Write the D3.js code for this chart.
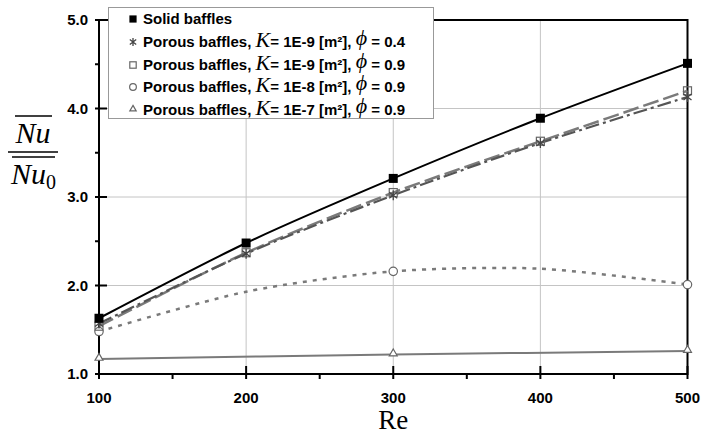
<!DOCTYPE html>
<html>
<head>
<meta charset="utf-8">
<script src="https://cdn.jsdelivr.net/npm/d3@7"></script>
<style>
  body { margin: 0; background: #fff; }
  svg { display: block; }
</style>
</head>
<body>
<svg id="chart" width="703" height="437"></svg>
<script>
// Re values
var reAll = [100, 200, 300, 400, 500];
var reSparse = [100, 300, 500];

// Nu / Nu0
var solidBaffles = [1.63, 2.48, 3.21, 3.89, 4.51];
var porousK9phi04 = [1.57, 2.36, 3.02, 3.61, 4.13];
var porousK9phi09 = [1.54, 2.37, 3.05, 3.63, 4.20];
// curve read at every Re, markers only shown at reSparse
var porousK8phi09 = [1.48, 1.93, 2.16, 2.19, 2.01];
var porousK7phi09 = [1.17, 1.22, 1.26];

var xTicks = [100, 200, 300, 400, 500];
var yTicks = [1, 2, 3, 4, 5];

var series = [
    { x: reAll, y: solidBaffles, mk: reAll, color: "#000", width: 2, dash: null, sym: "fsquare", k: null },
    { x: reAll, y: porousK9phi04, mk: reAll, color: "#555", width: 2.2, dash: "14,4,3,4", sym: "asterisk", k: "1E-9", phi: "0.4" },
    { x: reAll, y: porousK9phi09, mk: reAll, color: "#7a7a7a", width: 2.5, dash: "16,5", sym: "square", k: "1E-9", phi: "0.9" },
    { x: reAll, y: porousK8phi09, mk: reSparse, color: "#7a7a7a", width: 2.5, dash: "4,6", sym: "circle", k: "1E-8", phi: "0.9" },
    { x: reSparse, y: porousK7phi09, mk: reSparse, color: "#7a7a7a", width: 2, dash: null, sym: "triangle", k: "1E-7", phi: "0.9" }
];

// x with a vertical bar
var starX = {
    draw: function(ctx, size) {
        var r = Math.sqrt(size) / 2;
        var a = r * 0.8, b = r * 0.6;
        ctx.moveTo(0, -r); ctx.lineTo(0, r);
        ctx.moveTo(-a, -b); ctx.lineTo(a, b);
        ctx.moveTo(-a, b); ctx.lineTo(a, -b);
    }
};

draw();

function draw() {
    var svg = d3.select("#chart");
    var pLeft = 99, pRight = 687.5, pTop = 20, pBottom = 374;

    var x = d3.scaleLinear().domain([100, 500]).range([pLeft, pRight]);
    var y = d3.scaleLinear().domain([1, 5]).range([pBottom, pTop]);

    //grid
    svg.append("g").selectAll("line")
        .data(xTicks.slice(1, -1))
        .enter().append("line")
        .attr("x1", function(d) { return x(d); })
        .attr("x2", function(d) { return x(d); })
        .attr("y1", pTop).attr("y2", pBottom)
        .style("stroke", "#c4c4c4").style("stroke-width", 1);
    svg.append("g").selectAll("line")
        .data(yTicks.slice(1, -1))
        .enter().append("line")
        .attr("y1", function(d) { return y(d); })
        .attr("y2", function(d) { return y(d); })
        .attr("x1", pLeft).attr("x2", pRight)
        .style("stroke", "#c4c4c4").style("stroke-width", 1);

    // frame
    svg.append("rect")
        .attr("x", pLeft).attr("y", pTop)
        .attr("width", pRight - pLeft).attr("height", pBottom - pTop)
        .style("fill", "none").style("stroke", "#000").style("stroke-width", 2);

    // ticks (major cross the axis, minor outside)
    var minorY = [1.5, 2.5, 3.5, 4.5];
    var minorX = [150, 250, 350, 450];
    svg.append("g").selectAll("line")
        .data(yTicks).enter().append("line")
        .attr("x1", pLeft - 4).attr("x2", pLeft + 8)
        .attr("y1", function(d) { return y(d); }).attr("y2", function(d) { return y(d); })
        .style("stroke", "#000").style("stroke-width", 2);
    svg.append("g").selectAll("line")
        .data(minorY).enter().append("line")
        .attr("x1", pLeft - 4).attr("x2", pLeft)
        .attr("y1", function(d) { return y(d); }).attr("y2", function(d) { return y(d); })
        .style("stroke", "#000").style("stroke-width", 2);
    svg.append("g").selectAll("line")
        .data(xTicks).enter().append("line")
        .attr("y1", pBottom - 8).attr("y2", pBottom + 5)
        .attr("x1", function(d) { return x(d); }).attr("x2", function(d) { return x(d); })
        .style("stroke", "#000").style("stroke-width", 2);
    svg.append("g").selectAll("line")
        .data(minorX).enter().append("line")
        .attr("y1", pBottom).attr("y2", pBottom + 5)
        .attr("x1", function(d) { return x(d); }).attr("x2", function(d) { return x(d); })
        .style("stroke", "#000").style("stroke-width", 2);

    // tick labels
    svg.append("g").selectAll("text")
        .data(yTicks).enter().append("text")
        .attr("x", 88).attr("y", function(d) { return y(d) + 5; })
        .attr("text-anchor", "end")
        .style("font", "bold 15px 'Liberation Sans', Arial, sans-serif")
        .text(function(d) { return d3.format(".1f")(d); });
    svg.append("g").selectAll("text")
        .data(xTicks).enter().append("text")
        .attr("x", function(d) { return x(d); }).attr("y", 403)
        .attr("text-anchor", "middle")
        .style("font", "bold 15px 'Liberation Sans', Arial, sans-serif")
        .text(function(d) { return d; });

    // axis titles
    svg.append("text")
        .attr("x", x(300)).attr("y", 429)
        .attr("text-anchor", "middle")
        .style("font", "27px 'Liberation Serif', 'Times New Roman', serif")
        .text("Re");

    var ylab = svg.append("g");
    ylab.append("text").attr("x", 33).attr("y", 143).attr("text-anchor", "middle")
        .style("font", "italic 30px 'Liberation Serif', serif").text("Nu");
    ylab.append("line").attr("x1", 15).attr("x2", 52).attr("y1", 116).attr("y2", 116)
        .style("stroke", "#000").style("stroke-width", 1.5);
    ylab.append("line").attr("x1", 8).attr("x2", 58).attr("y1", 152).attr("y2", 152)
        .style("stroke", "#000").style("stroke-width", 1.5);
    ylab.append("line").attr("x1", 12).attr("x2", 55).attr("y1", 157).attr("y2", 157)
        .style("stroke", "#000").style("stroke-width", 1.5);
    var den = ylab.append("text").attr("x", 11).attr("y", 184)
        .style("font", "italic 30px 'Liberation Serif', serif");
    den.append("tspan").text("Nu");
    den.append("tspan").attr("dy", 5).style("font-style", "normal").style("font-size", "20px").text("0");

    // lines
    var line = d3.line()
        .x(function(d) { return x(d[0]); })
        .y(function(d) { return y(d[1]); })
        .curve(d3.curveCardinal.tension(0.2));

    series.slice().reverse().forEach(function(s) {
        var pts = s.x.map(function(v, i) { return [v, s.y[i]]; });
        svg.append("path")
            .datum(pts)
            .attr("d", line)
            .style("fill", "none")
            .style("stroke", s.color)
            .style("stroke-width", s.width)
            .style("stroke-dasharray", s.dash);
    });

    var marks = svg.append("g");
    series.slice().reverse().forEach(function(s) {
        s.x.forEach(function(v, i) {
            if (s.mk.indexOf(v) < 0) return;
            drawMarker(marks, s.sym, x(v), y(s.y[i]), 1);
        });
    });

    // legend
    var lg = svg.append("g");
    lg.append("rect").attr("x", 108.5).attr("y", 7.5).attr("width", 325).attr("height", 111)
        .style("fill", "#fff").style("stroke", "#999").style("stroke-width", 1);
    var rowY = [19, 42, 65, 87, 110];
    var sans = "'Liberation Sans', Arial, sans-serif";
    var serif = "'Liberation Serif', 'Times New Roman', serif";
    series.forEach(function(s, i) {
        drawMarker(lg, s.sym, 133, rowY[i], 0.8);
        var t = lg.append("text").attr("x", 143).attr("y", rowY[i] + 5)
            .style("font-family", sans).style("font-weight", "bold").style("font-size", "15px");
        if (s.k === null) {
            t.text("Solid baffles");
            return;
        }
        t.append("tspan").text("Porous baffles, ");
        t.append("tspan").style("font-family", serif).style("font-style", "italic")
            .style("font-weight", "normal").style("font-size", "22px").text("K");
        t.append("tspan").text("= " + s.k + " [m\u00b2], ");
        t.append("tspan").style("font-family", serif).style("font-style", "italic").style("font-weight", "normal")
            .style("font-size", "22px").attr("dy", -2).text("\u03d5");
        t.append("tspan").attr("dy", 2).text(" = " + s.phi);
    });
}

function drawMarker(g, sym, cx, cy, scale) {
    var sz = scale || 1;
    if (sym === "fsquare") {
        g.append("rect").attr("x", cx - 4.5 * sz).attr("y", cy - 4.5 * sz)
            .attr("width", 9 * sz).attr("height", 9 * sz).style("fill", "#000");
    } else if (sym === "square") {
        g.append("rect").attr("x", cx - 4 * sz).attr("y", cy - 4 * sz)
            .attr("width", 8 * sz).attr("height", 8 * sz)
            .style("fill", "none").style("stroke", "#666").style("stroke-width", 1.2);
    } else if (sym === "circle") {
        g.append("circle").attr("cx", cx).attr("cy", cy).attr("r", 4.2 * sz)
            .style("fill", "#fff").style("stroke", "#666").style("stroke-width", 1.2);
    } else if (sym === "triangle") {
        g.append("path")
            .attr("d", d3.symbol().type(d3.symbolTriangle2).size(45 * sz * sz)())
            .attr("transform", "translate(" + cx + "," + (cy - 1) + ")")
            .style("fill", "#fff").style("stroke", "#666").style("stroke-width", 1.2);
    } else if (sym === "asterisk") {
        g.append("path")
            .attr("d", d3.symbol().type(starX).size(100 * sz * sz)())
            .attr("transform", "translate(" + cx + "," + cy + ")")
            .style("fill", "none").style("stroke", "#444").style("stroke-width", 1.3);
    }
}
</script>
</body>
</html>
